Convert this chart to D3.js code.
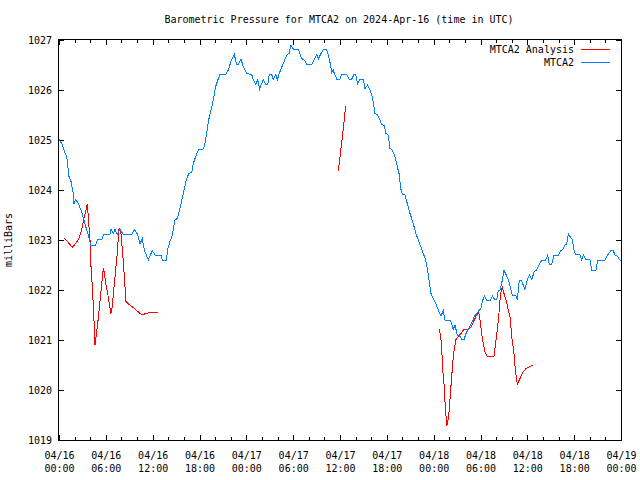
<!DOCTYPE html>
<html>
<head>
<meta charset="utf-8">
<script src="https://cdn.jsdelivr.net/npm/d3@7"></script>
<style>
  html, body { margin: 0; padding: 0; background: #fff; }
  svg { display: block; }
  text { font-family: "DejaVu Sans Mono", "Liberation Mono", monospace; font-size: 10px; fill: #000; }
</style>
</head>
<body>
<svg id="chart" width="640" height="480"></svg>
<script>
// ---- Data (hours since 2024-04-16 00:00 UTC) ----
const startUTC = Date.UTC(2024, 3, 16, 0, 0);
const yTicks = [1019, 1020, 1021, 1022, 1023, 1024, 1025, 1026, 1027];
const seriesNames = ["MTCA2 Analysis", "MTCA2"];

// Observed MTCA2
const obsHours = [0,0.38,0.64,0.99,1.11,1.28,1.54,1.83,1.92,2.14,2.47,2.82,3.11,3.42,3.75,4.06,4.70,4.91,5.47,5.68,
  6.53,6.66,6.96,7.17,7.47,7.81,8.24,9.31,9.65,10.08,10.38,10.67,10.93,11.44,11.95,12.30,13.07,13.23,13.75,13.96,
  14.22,14.51,14.86,15.16,15.50,15.92,16.36,16.65,17.0,17.21,17.51,17.85,18.49,18.70,18.92,19.13,19.43,19.77,20.07,20.41,
  20.63,21.36,21.69,22.03,22.46,22.76,22.97,23.32,23.61,24.05,24.69,24.89,25.20,25.46,25.71,25.97,26.17,26.48,26.74,26.94,
  27.25,27.45,27.76,27.97,28.31,28.73,29.17,29.47,29.72,30.02,30.66,31.09,31.43,31.73,32.37,32.71,33.01,33.22,33.56,33.86,
  34.29,34.50,34.72,34.94,35.14,35.27,35.58,36.0,36.22,36.86,37.15,37.50,37.79,38.01,38.27,38.56,38.98,39.20,39.55,39.84,
  40.14,40.35,40.48,40.83,41.12,41.34,41.67,41.89,42.19,42.40,42.70,43.04,43.34,43.56,43.78,43.98,44.33,44.62,44.97,45.18,
  45.48,45.73,46.03,46.34,46.67,46.98,47.18,47.44,47.66,47.95,48.26,48.59,48.94,49.23,49.45,50.09,50.31,50.51,50.73,51.03,
  51.37,51.67,51.89,52.14,52.36,52.65,52.95,53.20,53.51,53.81,54.06,54.23,54.49,54.79,55.31,55.51,55.86,56.07,56.28,56.50,
  56.71,57.01,57.36,57.65,57.91,58.07,58.51,58.71,58.97,59.19,59.48,59.70,59.99,60.25,60.56,60.89,61.20,61.49,61.84,62.35,
  62.61,62.81,63.12,63.41,63.97,64.27,64.53,64.82,65.04,65.25,65.46,65.76,66.01,66.19,66.74,66.96,67.17,67.47,68.02,68.24,
  68.79,69.01,69.95,70.29,70.72,71.01,71.23,71.52,71.83,72.0];
const obsPressure = [1025.02,1024.92,1024.8,1024.66,1024.5,1024.27,1024.17,1023.93,1023.72,1023.81,1023.73,1023.6,1023.45,1023.27,1023.1,1022.9,1022.9,1023.0,1023.01,1023.1,
  1023.11,1023.21,1023.13,1023.21,1023.11,1023.21,1023.11,1023.11,1023.21,1023.11,1022.93,1023.02,1022.8,1022.6,1022.79,1022.7,1022.7,1022.6,1022.6,1022.84,
  1022.97,1023.1,1023.4,1023.43,1023.63,1023.93,1024.23,1024.33,1024.35,1024.53,1024.67,1024.8,1024.82,1024.93,1025.13,1025.37,1025.57,1025.8,1026.07,1026.23,
  1026.31,1026.31,1026.4,1026.57,1026.71,1026.51,1026.51,1026.61,1026.47,1026.33,1026.31,1026.2,1026.11,1026.2,1026.02,1026.13,1026.2,1026.11,1026.11,1026.31,
  1026.31,1026.21,1026.31,1026.21,1026.37,1026.53,1026.7,1026.73,1026.9,1026.82,1026.81,1026.63,1026.6,1026.51,1026.51,1026.62,1026.71,1026.62,1026.73,1026.81,
  1026.8,1026.7,1026.55,1026.35,1026.4,1026.33,1026.22,1026.22,1026.31,1026.31,1026.22,1026.22,1026.31,1026.3,1026.13,1026.22,1026.21,1026.03,1026.1,1026.0,
  1025.87,1025.67,1025.53,1025.5,1025.4,1025.31,1025.29,1025.13,1025.1,1024.83,1024.8,1024.67,1024.47,1024.33,1024.03,1023.92,1023.9,1023.73,1023.53,1023.43,
  1023.27,1023.13,1023.0,1022.87,1022.73,1022.6,1022.43,1022.17,1021.93,1021.83,1021.73,1021.6,1021.48,1021.59,1021.4,1021.4,1021.33,1021.21,1021.3,1021.1,
  1021.07,1021.0,1021.01,1021.13,1021.2,1021.27,1021.37,1021.47,1021.53,1021.59,1021.63,1021.77,1021.88,1021.8,1021.8,1021.88,1021.8,1021.81,1021.99,1022.0,
  1022.13,1022.39,1022.28,1022.17,1022.0,1021.9,1021.89,1021.8,1022.19,1022.2,1022.1,1022.01,1022.2,1022.3,1022.21,1022.37,1022.4,1022.5,1022.59,1022.6,
  1022.7,1022.51,1022.51,1022.7,1022.7,1022.79,1022.81,1022.9,1022.92,1023.12,1023.07,1023.01,1022.77,1022.71,1022.71,1022.61,1022.7,1022.61,1022.61,1022.4,
  1022.4,1022.59,1022.6,1022.7,1022.79,1022.79,1022.7,1022.68,1022.6,1022.58];

// Analysis (null = gap between runs)
const anaHours = [0.68,1.19,1.70,2.14,2.56,2.91,3.24,3.42,3.63,3.75,3.97,4.10,4.27,4.48,4.61,4.96,5.25,5.47,5.68,5.80,
  5.98,6.24,6.44,6.66,6.83,7.01,7.26,7.47,7.65,7.73,7.90,8.16,8.37,8.58,8.88,9.52,10.08,10.67,11.11,11.66,12.72,
  null,
  35.78,36.26,36.73,
  null,
  48.72,48.90,49.03,49.16,49.32,49.49,49.67,49.83,50.00,50.18,50.39,50.51,50.69,50.86,51.15,51.46,51.79,52.56,52.87,53.20,
  53.51,53.77,53.93,54.15,54.36,54.57,54.79,55.73,55.89,56.15,56.33,56.50,56.66,56.79,57.01,57.27,57.52,57.78,58.03,58.29,
  58.46,58.71,59.06,59.40,59.83,60.34,60.76];
const anaPressure = [1023.03,1022.95,1022.85,1022.93,1023.03,1023.2,1023.47,1023.57,1023.72,1023.47,1023.0,1022.47,1022.07,1021.4,1020.9,1021.33,1021.77,1022.13,1022.43,1022.37,
  1022.13,1021.93,1021.73,1021.53,1021.67,1022.0,1022.4,1022.73,1023.2,1023.23,1023.2,1022.73,1022.27,1021.77,1021.72,1021.65,1021.57,1021.5,1021.53,1021.55,1021.55,
  null,
  1024.38,1025.0,1025.68,
  null,
  1021.22,1021.07,1020.83,1020.4,1020.13,1019.67,1019.28,1019.4,1019.6,1020.0,1020.43,1020.67,1020.87,1021.01,1021.07,1021.12,1021.2,1021.22,1021.28,1021.4,
  1021.5,1021.55,1021.4,1021.13,1020.93,1020.77,1020.68,1020.67,1020.87,1021.2,1021.47,1021.8,1022.0,1022.05,1021.93,1021.8,1021.63,1021.47,1021.03,1020.73,
  1020.4,1020.12,1020.23,1020.35,1020.43,1020.47,1020.5];

// ---- Drawing ----
const W = 640, H = 480;
const L = 59, R = 621, T = 40, B = 440;
const toDate = h => new Date(startUTC + h * 3600e3);

const svg = d3.select("#chart");
svg.append("rect").attr("width", W).attr("height", H).attr("fill", "#fff");

const x = d3.scaleUtc().domain([toDate(0), toDate(72)]).range([L, R]);
const y = d3.scaleLinear().domain([1019, 1027]).range([B, T]);

const fmtDate = d3.utcFormat("%m/%d"), fmtTime = d3.utcFormat("%H:%M");
const majorX = d3.utcHour.every(6).range(toDate(0), toDate(72.01));
const minorX = d3.utcHour.every(2).range(toDate(0), toDate(72.01)).filter(d => d.getUTCHours() % 6 !== 0);

// Ticks (inward)
const tickG = svg.append("g").attr("stroke", "#000").attr("shape-rendering", "crispEdges");
majorX.forEach(d => {
  const px = Math.round(x(d)) + 0.5;
  tickG.append("line").attr("x1", px).attr("x2", px).attr("y1", B).attr("y2", B - 5);
  tickG.append("line").attr("x1", px).attr("x2", px).attr("y1", T).attr("y2", T + 5);
});
minorX.forEach(d => {
  const px = Math.round(x(d)) + 0.5;
  tickG.append("line").attr("x1", px).attr("x2", px).attr("y1", B).attr("y2", B - 3);
  tickG.append("line").attr("x1", px).attr("x2", px).attr("y1", T).attr("y2", T + 3);
});
yTicks.forEach(v => {
  const py = Math.round(y(v)) + 0.5;
  tickG.append("line").attr("x1", L).attr("x2", L + 5).attr("y1", py).attr("y2", py);
  tickG.append("line").attr("x1", R).attr("x2", R - 5).attr("y1", py).attr("y2", py);
});

// X tick labels via d3 axis (lines hidden)
const xAxis = d3.axisBottom(x).tickValues(majorX).tickSize(0).tickPadding(0).tickFormat(() => "");
const gx = svg.append("g").attr("transform", `translate(0,${B})`).call(xAxis);
gx.select(".domain").remove();
gx.selectAll(".tick text").each(function(d) {
  const t = d3.select(this).attr("y", 0).attr("dy", null)
    .style("font-family", '"DejaVu Sans Mono", monospace').style("font-size", "10px").attr("fill", "#000");
  t.append("tspan").attr("x", 0).attr("y", 19).text(fmtDate(d));
  t.append("tspan").attr("x", 0).attr("y", 32).text(fmtTime(d));
});

// Y tick labels via d3 axis
const yAxis = d3.axisLeft(y).tickValues(yTicks).tickSize(0).tickPadding(7).tickFormat(d3.format("d"));
const gy = svg.append("g").attr("transform", `translate(${L},0)`).call(yAxis);
gy.select(".domain").remove();
gy.selectAll(".tick text").style("font-family", '"DejaVu Sans Mono", monospace').style("font-size", "10px").attr("fill", "#000");

// Frame
svg.append("rect").attr("x", L - 0.5).attr("y", T - 0.5).attr("width", R - L + 1).attr("height", B - T + 1)
  .attr("fill", "none").attr("stroke", "#000").attr("shape-rendering", "crispEdges");

// Lines
const line = d3.line()
  .defined(d => d[0] !== null && d[1] !== null)
  .x(d => x(toDate(d[0])))
  .y(d => y(d[1]));

const obs = obsHours.map((h, i) => [h, obsPressure[i]]);
const ana = anaHours.map((h, i) => [h, anaPressure[i]]);

svg.append("path").datum(ana).attr("d", line)
  .attr("fill", "none").attr("stroke", "#ff0000").attr("stroke-width", 1).attr("shape-rendering", "crispEdges");
svg.append("path").datum(obs).attr("d", line)
  .attr("fill", "none").attr("stroke", "#0080ff").attr("stroke-width", 1).attr("shape-rendering", "crispEdges");

// Title
svg.append("text").attr("x", 339).attr("y", 23).attr("text-anchor", "middle")
  .text("Barometric Pressure for MTCA2 on 2024-Apr-16 (time in UTC)");

// Y axis label
svg.append("text").attr("transform", "translate(12,240) rotate(-90)").attr("text-anchor", "middle").text("milliBars");

// Legend
const legColors = ["#ff0000", "#0080ff"];
seriesNames.forEach((name, i) => {
  const ly = 49.5 + i * 13;
  svg.append("text").attr("x", 574).attr("y", ly + 3.5).attr("text-anchor", "end").text(name);
  svg.append("line").attr("x1", 581).attr("x2", 610).attr("y1", ly).attr("y2", ly)
    .attr("stroke", legColors[i]).attr("stroke-width", 1).attr("shape-rendering", "crispEdges");
});
</script>
</body>
</html>
